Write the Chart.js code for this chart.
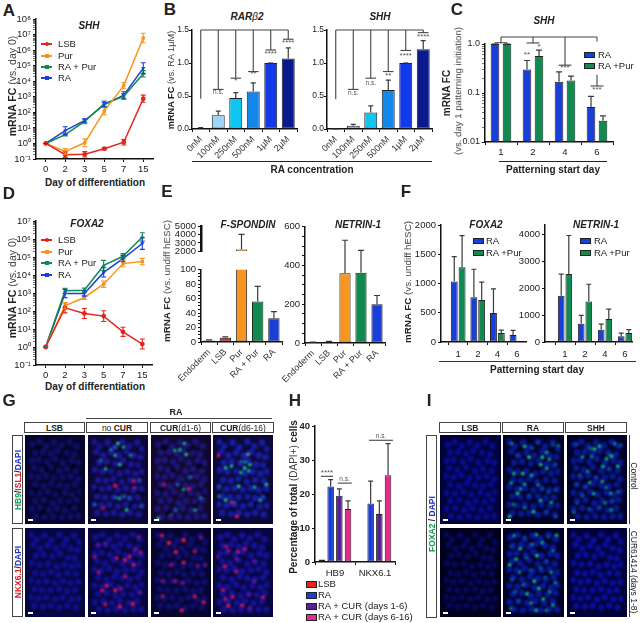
<!DOCTYPE html>
<html><head><meta charset="utf-8">
<style>
html,body{margin:0;padding:0;background:#fff;width:640px;height:623px;overflow:hidden}
#fig{position:relative;width:640px;height:623px;overflow:hidden;font-family:"Liberation Sans",Arial,sans-serif;color:#222}
canvas{position:absolute;display:block}
.t{position:absolute;white-space:nowrap;line-height:1;transform:translate(-50%,-50%)}
.l{position:absolute;white-space:nowrap;line-height:1;transform:translateY(-50%)}
.b{position:absolute;box-sizing:border-box}
</style>
<script src="https://cdn.jsdelivr.net/npm/chart.js@4/dist/chart.umd.min.js"></script>
</head><body><div id="fig"></div>
<script>
// ---------- data ----------
const dayLabels=['0','2','3','5','7','15'];
const A_LSB=[1,.19,.2,.46,1.2,750];
const A_Pur=[1,.31,1.1,120,5200,6e6];
const A_RAPur=[1,3.7,26,360,1070,30000];
const A_RA=[1,6.6,30,310,1250,70000];
const A_LSB_f=[1,1.5,1.5,1.15,1.5,1.7];
const A_Pur_f=[1,1.5,1.8,1.7,1.6,2];
const A_RAPur_f=[1,1.2,1.4,1.5,1.5,1.6];
const A_RA_f=[1,1.8,1.3,1.4,1.7,2.2];
const D_LSB=[1,150,73,52,7,1.46];
const D_Pur=[1,195,563,3100,43000,56000];
const D_RAPur=[1,1320,1440,34000,110000,1.3e6];
const D_RA=[1,940,940,14000,82000,560000];
const D_LSB_f=[1,1.9,1.9,2,1.8,1.9];
const D_Pur_f=[1,1.5,1.3,1.5,1.5,1.5];
const D_RAPur_f=[1,1.4,1.3,1.9,1.4,1.7];
const D_RA_f=[1,1.7,1.4,1.8,1.5,2.1];
const concLabels=['0nM','100nM','250nM','500nM','1µM','2µM'];
const B1_vals=[.01,.21,.47,.57,1,1.07];
const B1_tops=[.02,.27,.55,.70,1,1.23];
const B2_vals=[0,.05,.25,.59,1,1.21];
const B2_tops=[0,.07,.35,.74,1,1.34];
const B1_caps=[.46,.6,.77,.87,1.197,1.36];
const B2_caps=[.45,.6,.77,.87,1.19,1.46];
const dayStart=['1','2','4','6'];
const C_RA=[1,.30,.17,.052];
const C_RA_top=[1,.46,.27,.085];
const C_Pur=[1,.57,.18,.027];
const C_Pur_top=[1,.75,.22,.034];
const E_labels=['Endoderm','LSB','Pur','RA + Pur','RA'];
const E1_vals=[2,6,2200,56,33];
const E1_tops=[3,7,null,77,42];
const E1_upperTop=[null,null,4050,null,null];
const E2_vals=[3,6,360,362,200];
const E2_tops=[4,8,530,478,245];
const F_x=[1,2,3,4];
const F1_RA=[1034,767,494,119];
const F1_RA_top=[1460,1244,909,199];
const F1_Pur=[1278,716,153,0];
const F1_Pur_top=[1818,1022,204,null];
const F2_RA=[1716,680,457,210];
const F2_RA_top=[2520,990,667,333];
const F2_Pur=[2530,1506,852,333];
const F2_Pur_top=[3960,2148,1222,457];
const F2_baseline_tick=30;
const H_labels=['HB9','NKX6.1'];
const H_LSB=[.7,0];
const H_RA=[22.2,17.2];
const H_C16=[19.5,14.1];
const H_C616=[15.6,25.5];
const H_RA_top=[24.2,23.8];
const H_C16_top=[21.5,18];
const H_C616_top=[18,34.8];
// micrograph spots, in picture pixels inside each 60x89 panel
const dapiA=[[4,6],[12,3],[20,8],[29,4],[38,7],[47,3],[55,8],[7,15],[16,14],[25,16],[33,13],[43,15],[52,17],[3,24],[11,23],[21,25],[30,22],[39,26],[49,24],[57,26],[6,32],[15,34],[25,31],[35,35],[44,33],[54,35],[2,41],[11,42],[20,40],[29,43],[39,42],[48,41],[57,44],[7,50],[17,52],[26,49],[35,51],[44,52],[53,50],[3,59],[12,60],[22,58],[31,61],[41,59],[50,61],[58,58],[7,68],[17,67],[27,70],[36,68],[46,69],[55,67],[3,77],[13,76],[23,78],[32,76],[42,78],[52,76],[8,85],[18,86],[28,85],[38,86],[48,85],[57,85]];
const dapiB=[[2,3],[9,8],[18,4],[26,9],[35,3],[43,8],[52,4],[58,11],[5,14],[13,18],[22,15],[31,18],[40,14],[48,18],[56,20],[8,26],[17,25],[27,27],[36,24],[45,28],[53,29],[3,34],[12,36],[22,35],[32,38],[41,36],[50,38],[58,36],[7,45],[16,46],[25,44],[34,47],[44,45],[54,46],[2,53],[11,55],[20,54],[30,56],[39,54],[48,56],[57,55],[6,63],[15,64],[25,64],[35,63],[44,65],[53,64],[2,72],[11,73],[20,72],[30,74],[39,72],[49,74],[58,73],[6,81],[16,82],[25,81],[35,83],[44,81],[54,83]];
const holes=[[10,9],[41,11],[21,33],[52,30],[6,57],[33,60],[47,73],[16,80],[29,46],[56,60]];
const GA_c2_g=[[22,12],[27,9],[30,5],[37,9],[10,24],[16,33],[32,28],[27,18],[45,18],[27,64],[32,65],[37,63],[43,65],[57,74],[40,78],[55,45],[3,72]];
const GA_c2_r=[[27,51],[49,54],[13,76],[48,46]];
const GA_c3_g=[[23,13],[29,12],[34,5],[36,17],[31,45],[26,50],[33,56],[41,42],[46,78],[18,83],[4,87],[53,65],[24,78]];
const GA_c3_r=[[10,50],[39,55]];
const GA_c4_g=[[35,17],[28,25],[33,25],[38,28],[32,32],[37,35],[28,37],[17,30],[10,32],[2,52],[7,57],[3,63],[10,67],[53,63],[50,67],[25,52],[20,70],[43,53],[57,50]];
const GA_c4_r=[[37,16],[1,18],[23,85],[17,70]];
const GB_c2_r=[[54,6],[50,19],[56,23],[43,27],[7,14],[15,13],[3,27],[28,29],[38,31],[12,64],[17,59],[27,64],[33,62],[55,66],[47,79],[32,82],[8,44],[38,49],[15,79],[48,36]];
const GB_c3_r=[[8,4],[33,9],[16,12],[53,6],[24,22],[46,21],[33,34],[19,36],[49,37],[58,36],[9,54],[32,56],[23,54],[46,71],[56,77],[31,86],[9,71]];
const GB_c4_r=[[10,16],[13,21],[24,22],[32,19],[23,30],[43,32],[9,38],[22,43],[0,27],[10,74],[13,81],[29,81],[53,72],[37,69],[7,64],[43,54],[18,71],[38,84]];
const I_ra_ctrl=[[5,5],[20,8],[35,4],[52,6],[58,8],[45,15],[28,10],[40,20],[48,22],[55,28],[38,28],[45,32],[12,18],[25,20],[8,38],[18,38],[28,40],[5,48],[20,50],[35,50],[40,55],[47,58],[55,56],[12,60],[25,62],[38,68],[50,70],[8,72],[20,75],[30,80],[45,80],[55,85],[3,85],[15,55]];
const I_shh_ctrl=[[6,6],[22,10],[33,8],[50,5],[57,7],[44,17],[27,11],[41,22],[47,19],[54,30],[37,30],[44,33],[13,20],[24,19],[10,40],[19,36],[29,42],[6,50],[22,48],[36,47],[41,53],[46,60],[55,58],[13,62],[26,60],[39,70],[48,68],[7,70],[21,77],[33,75],[46,78],[3,80],[16,53]];
const I_ra_cur=[[8,4],[20,6],[33,3],[47,5],[56,4],[5,16],[15,18],[28,14],[40,12],[52,20],[10,30],[22,28],[34,26],[45,32],[3,36],[14,44],[27,42],[38,40],[50,44],[6,52],[19,58],[31,54],[43,50],[55,56],[9,66],[23,68],[36,62],[48,66],[13,76],[27,78],[41,74],[52,80],[5,84],[33,86],[45,86]];

// ---------- helpers ----------
const FONT='"Liberation Sans",Arial,sans-serif';
Chart.defaults.font.family=FONT;Chart.defaults.font.size=9.5;Chart.defaults.color='#222';
const fig=document.getElementById('fig');
const COL={LSB:'#e4251c',Pur:'#f7951e',RAPur:'#0f8b50',RA:'#1a3fd8',End:'#7d1236',ink:'#3a3a3a'};
function T(html,x,y,css,rot){const d=document.createElement('div');d.className='t';d.innerHTML=html;d.style.cssText=`left:${x}px;top:${y}px;font-size:9.5px;${css||''}`;if(rot)d.style.transform=`translate(-50%,-50%) rotate(${rot}deg)`;fig.appendChild(d);return d}
function L(html,x,y,css){const d=document.createElement('div');d.className='l';d.innerHTML=html;d.style.cssText=`left:${x}px;top:${y}px;font-size:9.5px;${css||''}`;fig.appendChild(d);return d}
function Box(x,y,w,h,css){const d=document.createElement('div');d.className='b';d.style.cssText=`left:${x}px;top:${y}px;width:${w}px;height:${h}px;${css||''}`;fig.appendChild(d);return d}
const errPlugin={id:'errs',afterDatasetsDraw(ch){const c=ch.ctx,y=ch.scales.y;ch.data.datasets.forEach((ds,i)=>{if(!ds.hi)return;const m=ch.getDatasetMeta(i);c.save();c.strokeStyle=ds.errColor||COL.ink;c.lineWidth=ds.errWidth||1.2;m.data.forEach((el,j)=>{const h=ds.hi[j];if(h==null)return;const cap=ds.cap||2.5;const yh=y.getPixelForValue(h);const lo=ds.lo?ds.lo[j]:null;const y0=lo!=null?y.getPixelForValue(lo):el.y;c.beginPath();c.moveTo(el.x,y0);c.lineTo(el.x,yh);c.moveTo(el.x-cap,yh);c.lineTo(el.x+cap,yh);if(lo!=null){c.moveTo(el.x-cap,y0);c.lineTo(el.x+cap,y0)}c.stroke()});c.restore()})}};
function sig(segs,texts,color){return{id:'sig',afterDraw(ch){const c=ch.ctx,X=ch.scales.x,Y=ch.scales.y;c.save();c.strokeStyle=color||'#444';c.lineWidth=1.1;segs.forEach(s=>{c.beginPath();c.moveTo(X.getPixelForValue(s[0]),Y.getPixelForValue(s[1]));c.lineTo(X.getPixelForValue(s[2]),Y.getPixelForValue(s[3]));c.stroke()});c.fillStyle='#555';c.textAlign='center';c.textBaseline='middle';texts.forEach(t=>{c.font=(t[2]==='n.s.'?'6.5px ':'8px ')+FONT;c.fillText(t[2],X.getPixelForValue(t[0]),Y.getPixelForValue(t[1]))});c.restore()}}}
function mk(p,type,labels,datasets,xo,yo,extra){
  const ml=p.ml??46,mr=p.mr??8,mt=p.mt??12,mb=p.mb??30;
  const cv=document.createElement('canvas');
  cv.width=p.r-p.l+ml+mr;cv.height=p.b-p.t+mt+mb;cv.style.left=(p.l-ml)+'px';cv.style.top=(p.t-mt)+'px';fig.appendChild(cv);
  const hide=xo.display===false;
  const axis={border:{color:'#111',width:1.5},grid:{drawOnChartArea:false,drawTicks:true,tickLength:3,color:'#111'}};
  return new Chart(cv,{type,data:{labels,datasets},plugins:[errPlugin].concat(extra||[]),options:{responsive:false,animation:false,
    layout:{padding:{top:mt,right:mr,left:0,bottom:hide?mb:0}},plugins:{legend:{display:false},tooltip:{enabled:false}},
    scales:{x:Object.assign({},axis,{afterFit(s){s.height=mb},ticks:{autoSkip:false,padding:2,maxRotation:0,minRotation:0,color:'#222',font:{size:9.5}}},xo),
            y:Object.assign({},axis,{afterFit(s){s.width=ml},ticks:{autoSkip:false,padding:2,color:'#222',font:{size:9.5}}},yo)}}});
}
const rotX={ticks:{autoSkip:false,padding:2,maxRotation:45,minRotation:45,color:'#333',font:{size:9}}};
const supers={'-1':'⁻¹','0':'⁰','1':'¹','2':'²','3':'³','4':'⁴','5':'⁵','6':'⁶','7':'⁷','8':'⁸'};
function logY(lo,hi){return{type:'logarithmic',min:Math.pow(10,lo),max:Math.pow(10,hi),
  afterBuildTicks(s){const a=[];for(let e=lo;e<=hi;e++){for(let k=1;k<10;k++){const v=k*Math.pow(10,e);if(e===hi&&k>1)break;a.push({value:v})}}s.ticks=a},
  grid:{drawOnChartArea:false,drawTicks:true,tickLength:3,color:'#111',
    tickWidth(c){const v=c.tick&&c.tick.value;if(v==null)return 1;const e=Math.log10(v);return Math.abs(e-Math.round(e))<1e-6?1.2:.6}},
  ticks:{autoSkip:false,padding:2,color:'#222',font:{size:9.5},callback(v){const e=Math.log10(v);if(Math.abs(e-Math.round(e))>1e-6)return '';return '10'+supers[String(Math.round(e))]}}}}
function ldata(v,f){return{hi:v.map((x,i)=>x*f[i]),lo:v.map((x,i)=>x/f[i])}}
function line(label,v,f,col,style,rot){const e=ldata(v,f);return{label,data:v,hi:e.hi,lo:e.lo,errColor:col,errWidth:1.1,cap:2.5,borderColor:col,backgroundColor:col,borderWidth:1.5,pointStyle:style,pointRotation:rot||0,pointRadius:2.4,pointBorderWidth:0,tension:0}}
function lineLegend(x,ys,names){names.forEach((n,i)=>{Box(x,ys[i]-.75,11,1.5,`background:${n[1]}`);const s=n[2];Box(x+3.5,ys[i]-2,4,4,`background:${n[1]};${s==='c'?'border-radius:50%':''}`);L(n[0],x+17,ys[i],'font-size:9.5px')})}
function barLegend(x,tx,items){items.forEach(it=>{Box(x,it[1]-3,10.5,6.5,`background:${it[2]};border:1px solid #222`);L(it[0],tx,it[1]+.3,'font-size:9.5px')})}
const btn={borderColor:'#222',borderWidth:1,borderSkipped:false};
const plain=v=>String(v);

// ---------- A ----------
T('A',9,11,'font:bold 17px '+FONT);
const lineNames=[['LSB',COL.LSB,'c'],['Pur',COL.Pur,'s'],['RA + Pur',COL.RAPur,'t'],['RA',COL.RA,'t']];
mk({l:36,t:19,r:153,b:159,mb:14},'line',dayLabels,[
  line('LSB',A_LSB,A_LSB_f,COL.LSB,'circle'),line('Pur',A_Pur,A_Pur_f,COL.Pur,'rect'),
  line('RA + Pur',A_RAPur,A_RAPur_f,COL.RAPur,'triangle'),line('RA',A_RA,A_RA_f,COL.RA,'triangle',180)],
  {offset:true},logY(-1,8));
T('SHH',89,25,'font:italic bold 10px '+FONT);
lineLegend(41,[44,56,67,78],lineNames);
T('<b>mRNA FC</b> <span style="color:#444">(vs. day 0)</span>',12,86,'font-size:10.5px',-90);
T('Day of differentiation',95,182,'font:bold 10px '+FONT);

// ---------- B ----------
T('B',170,10,'font:bold 17px '+FONT);
const concCols=['#333333','#9fd4f8','#0fc6f0','#1488ea','#1239ea','#0a1a8e'];
function brackets(caps){const s=[[0,1.5,5,1.5]];caps.forEach((c,i)=>{s.push([i,1.5,i,c]);if(i>0)s.push([i-.3,c,i+.3,c])});return s}
function yB(){return{min:0,max:1.5,ticks:{stepSize:.5,autoSkip:false,padding:0,color:'#222',font:{size:8.5},callback:v=>v.toFixed(1)}}}
mk({l:192,t:30,r:297,b:129,mt:6,mb:36,ml:20,mr:4},'bar',concLabels,[Object.assign({data:B1_vals,hi:B1_tops,backgroundColor:concCols,categoryPercentage:.74,barPercentage:1},btn)],rotX,yB(),
 [sig(brackets(B1_caps),[[1,.565,'n.s.'],[2,.73,'*'],[3,.84,'**'],[4,1.14,'****'],[5,1.31,'****']])]);
mk({l:327,t:30,r:432,b:129,mt:6,mb:36,ml:36,mr:4},'bar',concLabels,[Object.assign({data:B2_vals,hi:B2_tops,backgroundColor:concCols,categoryPercentage:.74,barPercentage:1},btn)],rotX,yB(),
 [sig(brackets(B2_caps),[[1,.54,'n.s.'],[2,.70,'n.s.'],[3,.80,'**'],[4,1.11,'****'],[5,1.40,'****']])]);
T('RAR<span style="font-weight:normal">β</span>2',247,16,'font:italic bold 10px '+FONT);
T('SHH',380,16,'font:italic bold 10px '+FONT);
T('<b>mRNA FC</b> <span style="color:#444">(vs. RA 1µM)</span>',171.5,80,'font-size:9.2px',-90);
Box(192,160.5,240,1,'background:#222');
T('RA concentration',312,168.5,'font:bold 10px '+FONT);

// ---------- C ----------
T('C',457,10,'font:bold 17px '+FONT);
const cy={type:'logarithmic',min:.01,max:1,afterBuildTicks(s){const a=[];[.01,.1].forEach(d=>{for(let k=1;k<10;k++)a.push({value:k*d})});a.push({value:1});s.ticks=a},
 grid:{drawOnChartArea:false,drawTicks:true,tickLength:3,color:'#111',tickWidth(c){const v=c.tick&&c.tick.value;if(v==null)return 1;return [.01,.1,1].includes(v)?1.2:.6}},
 ticks:{autoSkip:false,padding:2,color:'#222',font:{size:9},callback(v){return v===1?'1.0':v===.1?'0.1':v===.01?'0.01':''}}};
const cSegs=[[0,1.39,3,1.39],[0,1.39,0,1.06],[-.2,1.06,.2,1.06],[1,1.39,1,1.05],[.8,1.05,1.2,1.05],[2,1.39,2,.37],[1.8,.37,2.2,.37],[3,1.39,3,1.12],[3,.235,3,.139],[2.8,.139,3.2,.139]];
mk({l:485,t:44,r:613,b:142,mt:10,mb:14,ml:24,mr:6},'bar',dayStart,[
 Object.assign({data:C_RA,hi:C_RA_top,backgroundColor:COL.RA,categoryPercentage:.75,barPercentage:.72,cap:3},btn),
 Object.assign({data:C_Pur,hi:C_Pur_top,backgroundColor:COL.RAPur,categoryPercentage:.75,barPercentage:.72,cap:3},btn)],{},cy,
 [sig(cSegs,[[.81,.6,'**'],[1.19,.87,'*'],[2,.32,'***'],[3,.115,'***']])]);
T('SHH',544,20,'font:italic bold 10px '+FONT);
T('<b>mRNA FC</b>',447,93,'font-size:10px',-90);
T('<span style="color:#444">(vs. day 1 patterning initiation)</span>',458,91,'font-size:9.6px',-90);
barLegend(584,598,[['RA',54.5,COL.RA],['RA +Pur',65.5,COL.RAPur]]);
Box(499,160.5,108,1,'background:#222');
T('Patterning start day',553,168.5,'font:bold 10px '+FONT);

// ---------- D ----------
T('D',9,194,'font:bold 17px '+FONT);
mk({l:36,t:221,r:152,b:365,mb:14},'line',dayLabels,[
  line('LSB',D_LSB,D_LSB_f,COL.LSB,'circle'),line('Pur',D_Pur,D_Pur_f,COL.Pur,'rect'),
  line('RA + Pur',D_RAPur,D_RAPur_f,COL.RAPur,'triangle'),line('RA',D_RA,D_RA_f,COL.RA,'triangle',180)],
  {offset:true},logY(-1,7));
T('FOXA2',87,223,'font:italic bold 10px '+FONT);
lineLegend(41,[240,252,263,275],lineNames);
T('<b>mRNA FC</b> <span style="color:#444">(vs. day 0)</span>',12,288,'font-size:10.5px',-90);
T('Day of differentiation',95,386,'font:bold 10px '+FONT);

// ---------- E ----------
T('E',167,192,'font:bold 17px '+FONT);
const eCols=[COL.End,COL.LSB,COL.Pur,COL.RAPur,COL.RA];
mk({l:201,t:225,r:282,b:257,mb:6,mt:6,ml:30},'bar',E_labels,[Object.assign({data:E1_vals,hi:E1_upperTop,backgroundColor:eCols,categoryPercentage:.7,barPercentage:1,cap:3},btn)],{display:false},
 {min:2000,max:5000,ticks:{stepSize:1000,autoSkip:false,padding:2,color:'#222',font:{size:9.5},callback:plain},border:{color:'#111',width:2.5}});
mk({l:201,t:268,r:282,b:342,mb:44,mt:6,ml:30},'bar',E_labels,[Object.assign({data:E1_vals,hi:E1_tops,backgroundColor:eCols,categoryPercentage:.7,barPercentage:1,cap:3},btn)],rotX,
 {min:0,max:100,ticks:{stepSize:5,autoSkip:false,padding:2,color:'#222',font:{size:9.5},callback:v=>v%20===0?String(v):''}});
mk({l:305,t:225,r:385,b:343,mb:44,mt:6,ml:30},'bar',E_labels,[Object.assign({data:E2_vals,hi:E2_tops,backgroundColor:eCols,categoryPercentage:.7,barPercentage:1,cap:3},btn)],rotX,
 {min:0,max:600,ticks:{stepSize:50,autoSkip:false,padding:2,color:'#222',font:{size:9.5},callback:v=>v%200===0?String(v):''}});
T('F-SPONDIN',248,224,'font:italic bold 10px '+FONT);
T('NETRIN-1',358,224,'font:italic bold 10px '+FONT);
T('<b>mRNA FC</b> <span style="color:#444">(vs. undiff hESC)</span>',167,281,'font-size:9.8px',-90);

// ---------- F ----------
T('F',406,192,'font:bold 17px '+FONT);
const fLabels={1:'1',2:'2',3:'4',4:'6'};
function fx(mn,mx){return{type:'linear',min:mn,max:mx,afterBuildTicks(s){s.ticks=F_x.map(v=>({value:v}))},offset:false,
  ticks:{autoSkip:false,padding:4,maxRotation:0,minRotation:0,color:'#222',font:{size:9.5},callback:v=>fLabels[v]||''}}}
function pts(xs,ys){return xs.map((x,i)=>({x,y:ys[i]}))}
mk({l:441,t:225,r:526,b:342,mb:20,ml:30},'bar',null,[
 Object.assign({data:pts(F_x,F1_RA),hi:F1_RA_top,backgroundColor:COL.RA,categoryPercentage:.8,barPercentage:.88,cap:2.5},btn),
 Object.assign({data:pts(F_x,F1_Pur),hi:F1_Pur_top,backgroundColor:COL.RAPur,categoryPercentage:.8,barPercentage:.88,cap:2.5},btn)],fx(.124,4.46),
 {min:0,max:2000,ticks:{stepSize:500,autoSkip:false,padding:2,color:'#222',font:{size:9.5},callback:plain}});
mk({l:545,t:225,r:632,b:342,mb:20,ml:30},'bar',null,[
 Object.assign({data:pts([.6].concat(F_x),[F2_baseline_tick].concat(F2_RA)),hi:[null].concat(F2_RA_top),backgroundColor:COL.RA,categoryPercentage:1.9,barPercentage:.88,cap:2.5},btn),
 Object.assign({data:pts(F_x,F2_Pur),hi:F2_Pur_top,backgroundColor:COL.RAPur,categoryPercentage:1.9,barPercentage:.88,cap:2.5},btn)],fx(0,4.35),
 {min:0,max:4350,afterBuildTicks(s){s.ticks=[0,1000,2000,3000,4000].map(v=>({value:v}))},ticks:{autoSkip:false,padding:2,color:'#222',font:{size:9.5},callback:plain}});
T('FOXA2',486,224,'font:italic bold 10px '+FONT);
T('NETRIN-1',596,224,'font:italic bold 10px '+FONT);
T('<b>mRNA FC</b> <span style="color:#444">(vs. undiff hESC)</span>',408,282,'font-size:9.8px',-90);
barLegend(473,486,[['RA',240.5,COL.RA],['RA +Pur',252.5,COL.RAPur]]);
barLegend(580,594,[['RA',240.5,COL.RA],['RA +Pur',252.5,COL.RAPur]]);
Box(439,360.5,197,1.2,'background:#333');
T('Patterning start day',537,368.5,'font:bold 10px '+FONT);

// ---------- micrographs ----------
function micro(x0,y0,x1,y1,bg,blue,blueCol,holesOn,green,red){
  const wrap=document.createElement('div');wrap.style.cssText=`position:absolute;left:${x0}px;top:${y0}px;width:${x1-x0}px;height:${y1-y0}px;overflow:hidden;background:${bg}`;fig.appendChild(wrap);
  const cv=document.createElement('canvas');cv.width=x1-x0;cv.height=y1-y0;cv.style.cssText=`left:0;top:0;filter:blur(.85px)`;wrap.appendChild(cv);
  const ds=[{data:blue.map(p=>({x:p[0],y:p[1]})),backgroundColor:blueCol,pointRadius:3.3,pointBorderWidth:0}];
  if(holesOn)ds.push({data:holes.map(p=>({x:p[0],y:p[1]})),backgroundColor:'rgba(0,0,12,.8)',pointRadius:3.4,pointBorderWidth:0});
  if(green)ds.push({data:green.map(p=>({x:p[0],y:p[1]})),backgroundColor:'rgba(30,235,150,1)',pointRadius:1.8,pointBorderWidth:0});
  if(red)ds.push({data:red.map(p=>({x:p[0],y:p[1]})),backgroundColor:'rgba(250,25,90,1)',pointRadius:2.1,pointBorderWidth:0});
  new Chart(cv,{type:'scatter',data:{datasets:ds},plugins:[{id:'bg',beforeDraw(ch){ch.ctx.fillStyle=bg;ch.ctx.fillRect(0,0,ch.width,ch.height)}}],
   options:{responsive:false,animation:false,layout:{padding:0},plugins:{legend:{display:false},tooltip:{enabled:false}},
   scales:{x:{type:'linear',display:false,min:0,max:60},y:{type:'linear',display:false,min:0,max:89,reverse:true}}}});
  Box(x0+3,y1-5,5,1.5,'background:#fff');
}
const gCols=[[25,85],[88,148],[151,211],[213,273]];
const gr=[[435,524],[528,617]];
micro(gCols[0][0],gr[0][0],gCols[0][1],gr[0][1],'#05052e',dapiA,'rgba(22,24,150,.55)',true);
micro(gCols[1][0],gr[0][0],gCols[1][1],gr[0][1],'#0c0736',dapiB,'rgba(30,30,190,.7)',true,GA_c2_g,GA_c2_r);
micro(gCols[2][0],gr[0][0],gCols[2][1],gr[0][1],'#12082e',dapiA,'rgba(34,30,170,.62)',true,GA_c3_g,GA_c3_r);
micro(gCols[3][0],gr[0][0],gCols[3][1],gr[0][1],'#0c0838',dapiB,'rgba(24,36,200,.75)',true,GA_c4_g,GA_c4_r);
micro(gCols[0][0],gr[1][0],gCols[0][1],gr[1][1],'#060640',dapiB,'rgba(20,20,175,.7)',false);
micro(gCols[1][0],gr[1][0],gCols[1][1],gr[1][1],'#07063c',dapiA,'rgba(24,20,180,.7)',false,null,GB_c2_r);
micro(gCols[2][0],gr[1][0],gCols[2][1],gr[1][1],'#05052e',dapiB,'rgba(20,18,150,.65)',false,null,GB_c3_r);
micro(gCols[3][0],gr[1][0],gCols[3][1],gr[1][1],'#07063c',dapiA,'rgba(26,22,190,.72)',false,null,GB_c4_r);
const iCols=[[440,501],[503,564],[567,627]];
micro(iCols[0][0],gr[0][0],iCols[0][1],gr[0][1],'#020238',dapiA,'rgba(8,16,170,.75)',false);
micro(iCols[1][0],gr[0][0],iCols[1][1],gr[0][1],'#020228',dapiB,'rgba(10,30,170,.8)',false,I_ra_ctrl);
micro(iCols[2][0],gr[0][0],iCols[2][1],gr[0][1],'#020228',dapiA,'rgba(10,30,170,.8)',false,I_shh_ctrl);
micro(iCols[0][0],gr[1][0],iCols[0][1],gr[1][1],'#01011c',dapiB,'rgba(8,12,130,.65)',false);
micro(iCols[1][0],gr[1][0],iCols[1][1],gr[1][1],'#020228',dapiA,'rgba(10,30,180,.8)',false,I_ra_cur);
micro(iCols[2][0],gr[1][0],iCols[2][1],gr[1][1],'#020234',dapiB,'rgba(10,18,180,.8)',false);

// ---------- G labels ----------
T('G',9,401,'font:bold 17px '+FONT);
T('RA',176,412,'font:bold 9px '+FONT);
Box(86,417.5,186,1.2,'background:#444');
const hb='border:1.5px solid #444;background:#fff';
[[24,61,'<b>LSB</b>'],[86,62,'no <b>CUR</b>'],[150,61,'<b>CUR</b>(d1-6)'],[212,62,'<b>CUR</b>(d6-16)']].forEach(h=>{Box(h[0],422,h[1],11,hb);T(h[2],h[0]+h[1]/2,427.5,'font-size:8.5px')});
Box(12,435,11,89,hb);Box(12,528,11,89,hb);
T('<b style="color:#10a050">HB9</b><b>/</b><b style="color:#d62030">ISL1</b><b>/</b><b style="color:#2030c0">DAPI</b>',18,480,'font-size:8.5px',-90);
T('<b style="color:#d62030">NKX6.1</b><b>/</b><b style="color:#2030c0">DAPI</b>',18,572,'font-size:8.5px',-90);

// ---------- H ----------
T('H',295,401,'font:bold 17px '+FONT);
mk({l:315,t:426,r:395,b:562,mt:8,mb:18,ml:16},'bar',H_labels,[
 Object.assign({data:H_LSB,backgroundColor:COL.LSB,categoryPercentage:.87,barPercentage:.75,cap:2.5},btn),
 Object.assign({data:H_RA,hi:H_RA_top,backgroundColor:COL.RA,categoryPercentage:.87,barPercentage:.75,cap:2.5},btn),
 Object.assign({data:H_C16,hi:H_C16_top,backgroundColor:'#5a1e96',categoryPercentage:.87,barPercentage:.75,cap:2.5},btn),
 Object.assign({data:H_C616,hi:H_C616_top,backgroundColor:'#e6298c',categoryPercentage:.87,barPercentage:.75,cap:2.5},btn)],
 {ticks:{autoSkip:false,padding:3,maxRotation:0,minRotation:0,color:'#222',font:{size:9.5}}},
 {min:0,max:40,ticks:{stepSize:10,autoSkip:false,padding:2,color:'#222',font:{size:9.5,weight:'bold'}}},
 [sig([[-.35,25.2,-.05,25.2],[.07,23.2,.42,23.2],[.85,35.8,1.45,35.8]],[[-.2,26.3,'****'],[.24,24.4,'n.s.'],[1.15,37,'n.s.']])]);
T('<b>Percentage of total</b> <span style="color:#444">(DAPI+)</span> <b>cells</b>',294,497,'font-size:10px',-90);
barLegend(306,318,[['LSB',584,COL.LSB],['RA',595,COL.RA],['RA + CUR (days 1-6)',606,'#5a1e96'],['RA + CUR (days 6-16)',617,'#e6298c']]);

// ---------- I labels ----------
T('I',429,401,'font:bold 17px '+FONT);
[[439,62,'LSB'],[502,62,'RA'],[565,62,'SHH']].forEach(h=>{Box(h[0],422,h[1],11,hb);T(h[2],h[0]+h[1]/2,427.5,'font:bold 8.5px '+FONT)});
Box(426,435,11,183,hb);
T('<b style="color:#10a050">FOXA2</b> <b>/</b> <b style="color:#2030c0">DAPI</b>',432,524,'font-size:8.5px',-90);
Box(629,435,1,89,'background:#444');Box(629,528,1,89,'background:#444');
T('Control',634,476,'font-size:8.5px',90);
T('CUR61414 (days 1-8)',634,572,'font-size:8.5px',90);
</script></body></html>
